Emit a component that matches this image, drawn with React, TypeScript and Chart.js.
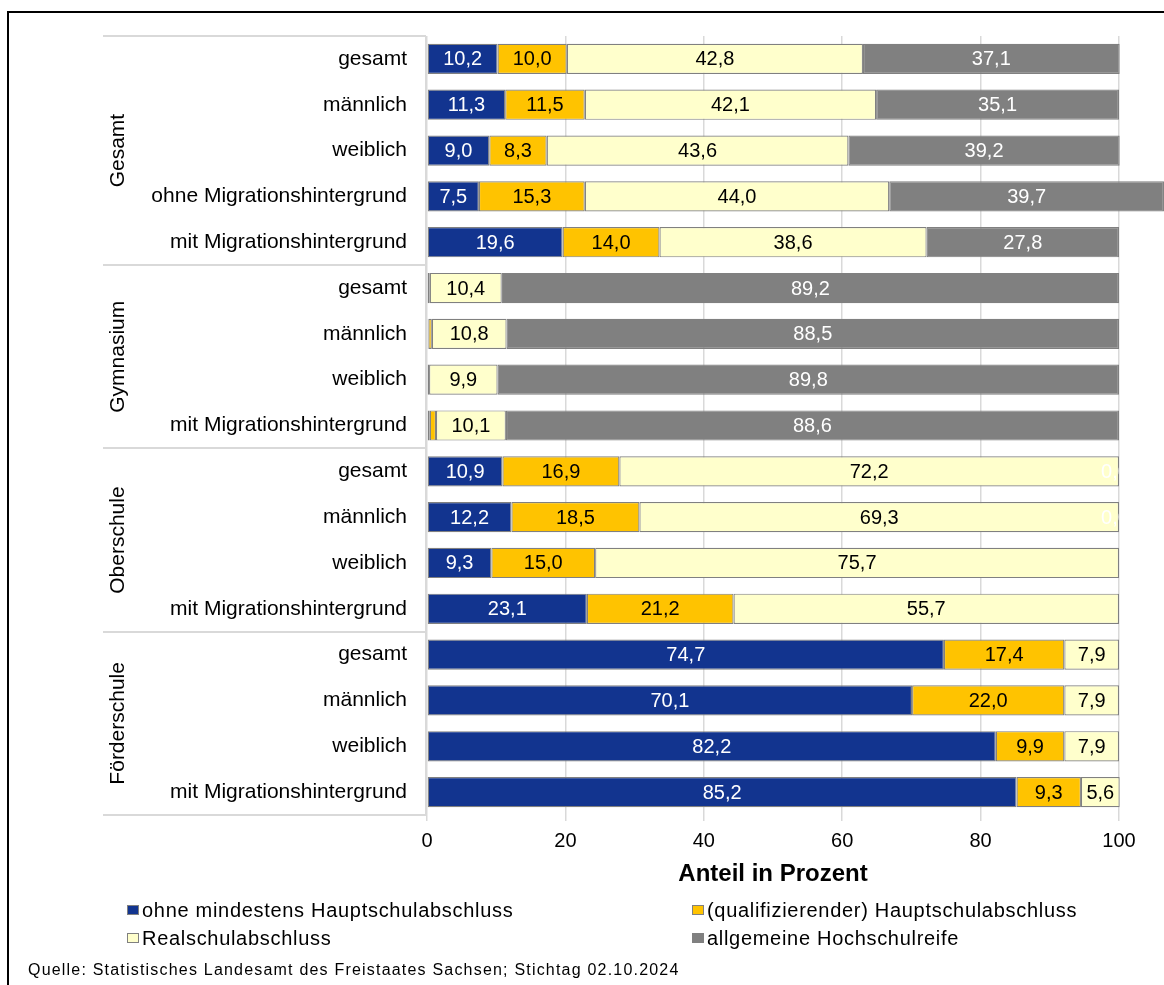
import React, { useEffect, useRef } from 'react';
import { Chart, registerables } from 'chart.js';

Chart.register(...registerables);

const FONT = "'Liberation Sans', Arial, sans-serif";

const categories = [
  'gesamt', 'männlich', 'weiblich', 'ohne Migrationshintergrund', 'mit Migrationshintergrund',
  'gesamt', 'männlich', 'weiblich', 'mit Migrationshintergrund',
  'gesamt', 'männlich', 'weiblich', 'mit Migrationshintergrund',
  'gesamt', 'männlich', 'weiblich', 'mit Migrationshintergrund',
];
const groups = ['Gesamt', 'Gymnasium', 'Oberschule', 'Förderschule'];
const groupSizes = [5, 4, 4, 4];

const ohneAbschluss = [10.2, 11.3, 9.0, 7.5, 19.6, 0.1, 0.2, 0.1, 0.4, 10.9, 12.2, 9.3, 23.1, 74.7, 70.1, 82.2, 85.2];
const hauptschule = [10.0, 11.5, 8.3, 15.3, 14.0, 0.3, 0.5, 0.2, 0.9, 16.9, 18.5, 15.0, 21.2, 17.4, 22.0, 9.9, 9.3];
const realschule = [42.8, 42.1, 43.6, 44.0, 38.6, 10.4, 10.8, 9.9, 10.1, 72.2, 69.3, 75.7, 55.7, 7.9, 7.9, 7.9, 5.6];
const hochschulreife = [37.1, 35.1, 39.2, 39.7, 27.8, 89.2, 88.5, 89.8, 88.6, 0.0, 0.0, null, null, null, null, null, null];

const seriesNames = [
  'ohne mindestens Hauptschulabschluss',
  '(qualifizierender) Hauptschulabschluss',
  'Realschulabschluss',
  'allgemeine Hochschulreife',
];
const seriesColors = ['#12348F', '#FFC300', '#FFFFCC', '#808080'];
const labelColors = ['#FFFFFF', '#000000', '#000000', '#FFFFFF'];

const xMin = 0;
const xMax = 100;
const xStep = 20;
const xTitle = 'Anteil in Prozent';
const sourceText = 'Quelle: Statistisches Landesamt des Freistaates Sachsen; Stichtag 02.10.2024';

const fmt = (v: number) => v.toFixed(1).replace('.', ',');

const valueLabels = {
  id: 'valueLabels',
  afterDatasetsDraw(chart: any) {
    const { ctx, chartArea } = chart;
    ctx.save();
    ctx.beginPath();
    ctx.rect(chartArea.left, 0, chartArea.right - chartArea.left, chart.height);
    ctx.clip();
    ctx.font = `20px ${FONT}`;
    ctx.textAlign = 'center';
    ctx.textBaseline = 'middle';
    chart.data.datasets.forEach((ds: any, di: number) => {
      const meta = chart.getDatasetMeta(di);
      meta.data.forEach((el: any, i: number) => {
        const v = ds.data[i];
        if (v === null || v === undefined) return;
        if (!(v >= 1 || v === 0)) return;
        const x = v === 0 ? el.x - 4 : (el.x + el.base) / 2;
        ctx.fillStyle = labelColors[di];
        ctx.fillText(fmt(v), x, el.y + 1);
      });
    });
    ctx.restore();
  },
};

const decor = {
  id: 'decor',
  afterDraw(chart: any) {
    const { ctx, chartArea } = chart;
    const y = chart.scales.y;
    ctx.save();
    ctx.strokeStyle = '#D9D9D9';
    ctx.lineWidth = 2;
    const bounds: number[] = [-0.5];
    let idx = 0;
    groupSizes.forEach((n) => {
      idx += n;
      bounds.push(idx - 0.5);
    });
    bounds.forEach((b) => {
      const py = Math.round(y.getPixelForValue(b));
      ctx.beginPath();
      ctx.moveTo(103, py);
      ctx.lineTo(chartArea.left - 1, py);
      ctx.stroke();
    });
    ctx.beginPath();
    ctx.moveTo(chartArea.left - 1, Math.round(y.getPixelForValue(-0.5)));
    ctx.lineTo(chartArea.left - 1, Math.round(y.getPixelForValue(idx - 0.5)));
    ctx.stroke();

    // group labels
    ctx.fillStyle = '#000';
    ctx.font = `21px ${FONT}`;
    ctx.textAlign = 'center';
    ctx.textBaseline = 'middle';
    let start = 0;
    groups.forEach((g, gi) => {
      const end = start + groupSizes[gi];
      const cy = (y.getPixelForValue(start - 0.5) + y.getPixelForValue(end - 0.5)) / 2;
      ctx.save();
      ctx.translate(118, cy);
      ctx.rotate(-Math.PI / 2);
      ctx.fillText(g, 0, 0);
      ctx.restore();
      start = end;
    });

    // legend
    const legendPos = [
      { x: 127, y: 910 },
      { x: 692, y: 910 },
      { x: 127, y: 938 },
      { x: 692, y: 938 },
    ];
    ctx.textAlign = 'left';
    ctx.font = `20px ${FONT}`;
    (ctx as any).letterSpacing = '0.7px';
    seriesNames.forEach((name, i) => {
      const p = legendPos[i];
      ctx.fillStyle = seriesColors[i];
      ctx.fillRect(p.x, p.y - 5, 12, 10);
      ctx.strokeStyle = '#808080';
      ctx.lineWidth = 1;
      ctx.strokeRect(p.x + 0.5, p.y - 4.5, 11, 9);
      ctx.fillStyle = '#000';
      ctx.fillText(name, p.x + 15, p.y + 1);
    });

    // source
    ctx.font = `16px ${FONT}`;
    (ctx as any).letterSpacing = '1.2px';
    ctx.fillStyle = '#000';
    ctx.fillText(sourceText, 28, 971);
    (ctx as any).letterSpacing = '0px';
    ctx.restore();
  },
};

export default function App() {
  const ref = useRef<HTMLCanvasElement>(null);

  useEffect(() => {
    const canvas = ref.current;
    if (!canvas) return;
    const datasetsValues = [ohneAbschluss, hauptschule, realschule, hochschulreife];
    const chart = new Chart(canvas, {
      type: 'bar',
      data: {
        labels: categories,
        datasets: datasetsValues.map((vals, i) => ({
          label: seriesNames[i],
          data: vals,
          backgroundColor: seriesColors[i],
          borderColor: '#808080',
          borderWidth: 1.2,
          borderSkipped: false,
          barPercentage: 0.66,
          categoryPercentage: 1,
          clip: false,
        })),
      },
      options: {
        indexAxis: 'y',
        responsive: false,
        maintainAspectRatio: false,
        animation: false,
        layout: { padding: { top: 36, bottom: 96, right: 45, left: 0 } },
        plugins: {
          legend: { display: false },
          tooltip: { enabled: false },
          title: { display: false },
        },
        scales: {
          x: {
            stacked: true,
            min: xMin,
            max: xMax,
            ticks: {
              stepSize: xStep,
              color: '#000',
              font: { family: FONT, size: 20 },
              padding: 8,
              maxRotation: 0,
            },
            grid: { color: '#D9D9D9', lineWidth: 1.5, drawTicks: true, tickLength: 6, tickColor: '#D9D9D9' },
            border: { display: false },
            title: {
              display: true,
              text: xTitle,
              color: '#000',
              font: { family: FONT, size: 24, weight: 'bold' },
              padding: { top: 0, bottom: 0 },
            },
            afterFit: (scale: any) => {
              scale.height = 74;
            },
          },
          y: {
            stacked: true,
            ticks: {
              color: '#000',
              font: { family: FONT, size: 21 },
              padding: 12,
              autoSkip: false,
            },
            grid: { display: false },
            border: { display: false },
            afterFit: (scale: any) => {
              scale.width = 427;
            },
          },
        },
      },
      plugins: [valueLabels, decor],
    });
    return () => chart.destroy();
  }, []);

  return (
    <div style={{ position: 'fixed', left: 0, top: 0, width: 1164, height: 985, overflow: 'hidden', background: '#fff' }}>
      <canvas ref={ref} width={1164} height={985} style={{ position: 'absolute', left: 0, top: 0 }} />
      <div
        style={{
          position: 'absolute',
          left: 7,
          top: 11,
          width: 1300,
          height: 1100,
          border: '2px solid #000',
          boxSizing: 'border-box',
          pointerEvents: 'none',
        }}
      />
    </div>
  );
}
